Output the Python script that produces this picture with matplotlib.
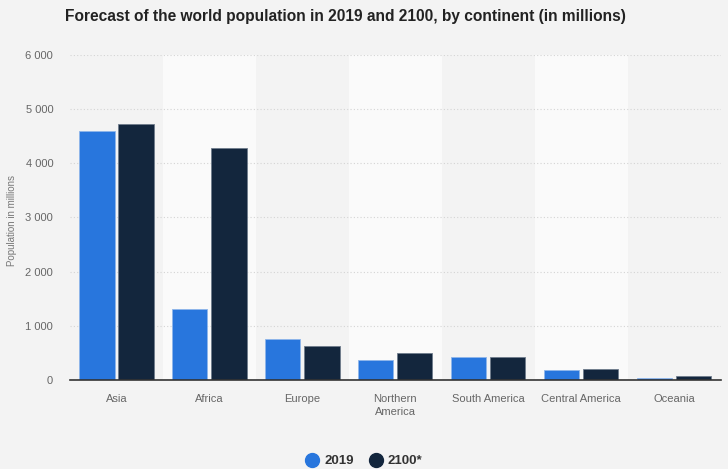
import matplotlib.pyplot as plt
import numpy as np
from matplotlib.lines import Line2D

continents = ["Asia", "Africa", "Europe", "Northern\nAmerica", "South America",
              "Central America", "Oceania"]
pop_2019 = [4601, 1308, 747, 366, 427, 177, 42]
pop_2100 = [4720, 4280, 630, 491, 420, 197, 75]
y_ticks = [0, 1000, 2000, 3000, 4000, 5000, 6000]

plt.rcParams['font.family'] = ['Liberation Sans', 'DejaVu Sans']

fig = plt.figure(figsize=(7.28, 4.69), dpi=100)
fig.patch.set_facecolor("#f3f3f3")
ax = fig.add_axes([0.096, 0.19, 0.894, 0.693])
ax.set_facecolor("#f3f3f3")

x = np.arange(len(continents))
w = 0.38
# alternating column bands
for i in x:
    if i % 2 == 1:
        ax.axvspan(i - 0.5, i + 0.5, color="#fafafa", zorder=0, lw=0)

ax.bar(x - w / 2 - 0.02, pop_2019, w, color="#2876dd", edgecolor="#8fb6ea",
       linewidth=0.6, zorder=3)
ax.bar(x + w / 2 + 0.02, pop_2100, w, color="#13263d", edgecolor="#6f7c8c",
       linewidth=0.6, zorder=3)

ax.set_xlim(-0.5, len(continents) - 0.5)
ax.set_ylim(0, 6000)
ax.set_yticks(y_ticks)
ax.set_yticklabels([f"{v:,}".replace(",", " ") for v in y_ticks])
ax.set_xticks(x)
ax.set_xticklabels(continents, linespacing=1.35)
ax.tick_params(axis="both", length=0, labelsize=8, colors="#666666")
ax.tick_params(axis="y", pad=12)
ax.tick_params(axis="x", pad=10)
ax.grid(axis="y", color="#d4d4d4", linestyle=(0, (1, 2)), linewidth=0.8, zorder=1)
for s in ["top", "right", "left"]:
    ax.spines[s].set_visible(False)
ax.spines["bottom"].set_color("#333333")
ax.spines["bottom"].set_linewidth(1.2)
ax.spines["bottom"].set_zorder(4)

fig.text(12 / 728, 0.53, "Population in millions", fontsize=7, color="#777777",
         rotation=90, ha="center", va="center")

fig.text(0.089, 0.965, "Forecast of the world population in 2019 and 2100, by continent (in millions)",
         fontsize=11.2, fontweight="bold", color="#222222", va="center")

handles = [Line2D([], [], marker="o", ls="", color="#2876dd", markersize=10),
           Line2D([], [], marker="o", ls="", color="#13263d", markersize=10)]
leg = fig.legend(handles, ["2019", "2100*"], loc="center", bbox_to_anchor=(0.5, 0.017),
                 ncol=2, frameon=False, handlelength=1.0, handletextpad=0.4,
                 columnspacing=1.2, prop={"weight": "bold", "size": 9.5})
for t in leg.get_texts():
    t.set_color("#333333")

fig.savefig("out.png", dpi=100, facecolor=fig.get_facecolor())
